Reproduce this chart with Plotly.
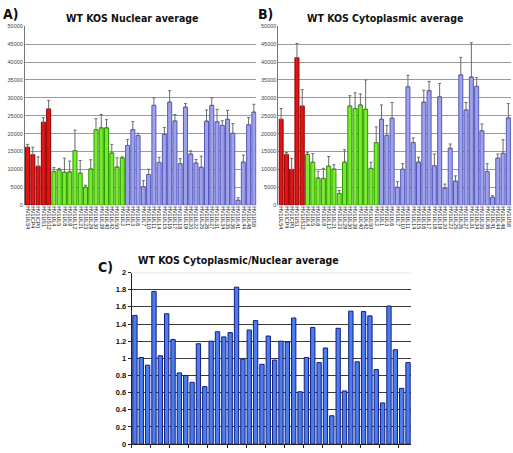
import plotly.graph_objects as go

# ---------------- data ----------------
labels = ["HV1UL54", "HV1ICP4", "HV1ICP0", "HV1US1", "HV1US12",
          "HV1UL4", "HV1UL5", "HV1UL8", "HV1UL9", "HV1UL12", "HV1UL21", "HV1UL23",
          "HV1UL29", "HV1UL30", "HV1UL39", "HV1UL40", "HV1UL42", "HV1UL50", "HV1UL2",
          "HV1UL1", "HV1UL3", "HV1UL6", "HV1UL7", "HV1UL10", "HV1UL11", "HV1UL14",
          "HV1UL15", "HV1UL16", "HV1UL17", "HV1UL18", "HV1UL19", "HV1UL20", "HV1UL22",
          "HV1UL25", "HV1UL26", "HV1UL27", "HV1UL31", "HV1UL34", "HV1UL35", "HV1UL36",
          "HV1UL41", "HV1UL44", "HV1UL48", "HV1US8"]
gene_class = ["IE"] * 5 + ["E"] * 14 + ["L"] * 25

nuc = [16200, 14100, 10900, 23200, 26900,
       9400, 9860, 9220, 9320, 15250, 8950, 5020, 10140, 21080, 21620, 21620, 14600, 10680, 13240,
       16700, 21100, 19450, 5200, 8580, 27900, 11960, 19800, 28800, 23540, 11600, 27400, 14300,
       11800, 10600, 23500, 27900, 23300, 22300, 24000, 20100, 1370, 12050, 22470, 26000]
nuc_err_top = [17000, 16200, 13500, 24450, 29300,
               10500, 10300, 13150, 12330, 21000, 12500, 5570, 12700, 24180, 25360, 23900, 17000, 13240, 13500,
               18360, 23360, 20100, 6850, 10050, 30000, 13400, 21740, 32000, 25360, 13000, 28400, 15200,
               12800, 13700, 26600, 30000, 26800, 23600, 26500, 22800, 2100, 14000, 24500, 28200]

cyt = [24000, 14200, 10000, 41200, 27700,
       14200, 12000, 7600, 7500, 10900, 10100, 3300, 12000, 27700, 27000, 28000, 26800, 10300, 17500,
       24000, 19500, 24300, 5000, 10050, 33100, 17500, 12050, 28800, 32000, 11050, 30300, 4700,
       15900, 6750, 36400, 26600, 35800, 33200, 20800, 9400, 2200, 13150, 14500, 24400]
cyt_err_top = [27000, 14700, 13100, 45200, 32300,
               14800, 14400, 9500, 10300, 13600, 11300, 4100, 15500, 30600, 31400, 31100, 35000, 12000, 21900,
               28000, 22300, 28700, 6600, 11600, 36300, 18800, 13400, 32100, 34600, 14300, 34000, 5900,
               17100, 8200, 41300, 28700, 45400, 35700, 22700, 11600, 2650, 14300, 18300, 28400]

ratio = [1.50, 1.01, 0.92, 1.78, 1.03,
         1.52, 1.22, 0.83, 0.80, 0.72, 1.17, 0.67, 1.20, 1.31, 1.25, 1.30, 1.83, 0.99, 1.33,
         1.44, 0.93, 1.26, 0.98, 1.20, 1.19, 1.47, 0.61, 1.01, 1.36, 0.95, 1.12, 0.33, 1.35,
         0.62, 1.55, 0.96, 1.545, 1.495, 0.87, 0.48, 1.61, 1.10, 0.65, 0.95]

titles = ["WT KOS Nuclear average", "WT KOS Cytoplasmic average",
          "WT KOS Cytoplasmic/Nuclear average"]
panel_tags = ["A)", "B)", "C)"]

# ---------------- styling ----------------
W, H = 513, 453
fill_map = {"IE": "#e41414", "E": "#78ea30", "L": "#9ea2ec"}
edge_map = {"IE": "#8a0000", "E": "#2f9a00", "L": "#5558b8"}
fills = [fill_map[c] for c in gene_class]
edges = [edge_map[c] for c in gene_class]
NARROW = "DejaVu Sans Condensed, Liberation Sans Narrow, Arial Narrow, sans-serif"
SANS = "Liberation Sans, Arial, sans-serif"


def fx(x):
    return x / W


def fy(y):
    return 1 - y / H


fig = go.Figure()

for vals, tops, ax in [(nuc, nuc_err_top, "1"), (cyt, cyt_err_top, "2")]:
    fig.add_trace(go.Bar(
        x=labels, y=vals, width=0.76,
        marker=dict(color=fills, line=dict(color=edges, width=1)),
        error_y=dict(type="data", symmetric=False,
                     array=[t - v for t, v in zip(tops, vals)],
                     arrayminus=[0] * len(vals),
                     color="#6a6a6a", thickness=1, width=1.5),
        xaxis="x" if ax == "1" else "x2",
        yaxis="y" if ax == "1" else "y2",
        showlegend=False, hoverinfo="x+y"))

fig.add_trace(go.Bar(
    x=labels, y=ratio, width=0.68,
    marker=dict(color="#4a7cf2", line=dict(color="#141e78", width=1)),
    xaxis="x3", yaxis="y3", showlegend=False))

ab_y = dict(range=[0, 50000], dtick=5000, tickformat="d", showgrid=True, gridcolor="#9a9a9a",
            gridwidth=1, tickfont=dict(size=5.5, color="#444", family=SANS),
            showline=True, linecolor="#777", linewidth=1, ticks="", zeroline=False,
            domain=[fy(205.3), fy(22.7)])
ab_x = dict(type="category", tickmode="array", tickvals=labels, ticktext=labels,
            tickangle=90, tickfont=dict(size=5.3, color="#111", family=SANS),
            showgrid=False, showline=False, ticks="", zeroline=False)

fig.update_layout(
    width=W, height=H, margin=dict(l=0, r=0, t=0, b=0),
    paper_bgcolor="white", plot_bgcolor="white",
    xaxis=dict(ab_x, domain=[fx(25), fx(257)], anchor="y"),
    yaxis=dict(ab_y, anchor="x"),
    xaxis2=dict(ab_x, domain=[fx(279), fx(512)], anchor="y2"),
    yaxis2=dict(ab_y, anchor="x2"),
    xaxis3=dict(type="category", domain=[fx(132), fx(412)], anchor="y3",
                showticklabels=False, showgrid=False, showline=True, linecolor="#222",
                linewidth=1, ticks="outside", ticklen=3, tickcolor="#222",
                tickson="boundaries"),
    yaxis3=dict(range=[0, 2], dtick=0.2, domain=[fy(449), fy(274)], anchor="x3",
                showgrid=True, gridcolor="#3a3a3a", gridwidth=1.2,
                tickfont=dict(size=7.5, color="#111", family=SANS, weight="bold"),
                tickformat="~g",
                showline=True, linecolor="#222", linewidth=1, ticks="outside",
                ticklen=3, tickcolor="#222", zeroline=False),
    shapes=[dict(type="line", xref="x3 domain", yref="y3", x0=0, x1=1, y0=2, y1=2,
                 line=dict(color="#e6e6e6", width=2), layer="above")],
)

annots = [
    (132, 14, titles[0], 10.5), (386, 14, titles[1], 10.5), (239, 261, titles[2], 10.5),
]
for x, y, t, s in annots:
    fig.add_annotation(x=fx(x), y=fy(y), xref="paper", yref="paper", text="<b>%s</b>" % t,
                       showarrow=False, font=dict(size=s, family=NARROW, color="#111"),
                       xanchor="center", yanchor="middle")
for x, y, t in [(1, 10, panel_tags[0]), (256, 10, panel_tags[1]), (96, 268, panel_tags[2])]:
    fig.add_annotation(x=fx(x), y=fy(y), xref="paper", yref="paper", text="<b>%s</b>" % t,
                       showarrow=False, font=dict(size=14, family=NARROW, color="#111"),
                       xanchor="left", yanchor="middle")

fig.write_html("out.html", config={"displayModeBar": False},
               post_script="document.body.style.margin='0px';")
